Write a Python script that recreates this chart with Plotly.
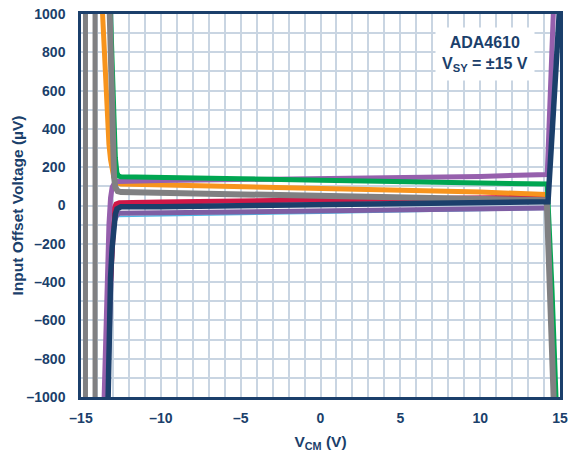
import plotly.graph_objects as go

# ---- data (V_CM in volts, input offset voltage in µV) ----
vcm_lightblue = [-12.7, -10, -5, 0, 5, 10, 14.2]
ios_lightblue = [-58, -55, -48, -40, -32, -25, -20]

vcm_purple_low = [-13.35, -13.2, -13.05, -12.9, -12.75, -12.6, -10, 0, 10, 14.2]
ios_purple_low = [-1000, -500, -200, -80, -48, -41, -38, -28, -18, -13]

vcm_red = [-13.15, -13.0, -12.9, -12.8, -12.6, -10, 0, 10, 14.2]
ios_red = [-400, -100, -10, 8, 14, 18, 30, 40, 45]

vcm_orange = [-13.65, -13.55, -13.45, -13.35, -13.25, -13.15, -13.05, -12.95, -12.85, -12.7, -12.5, -10, 0, 10, 14.15]
ios_orange = [1000, 800, 600, 440, 320, 240, 185, 150, 130, 118, 112, 108, 90, 70, 58]

vcm_purple_up = [-13.55, -13.45, -13.35, -13.25, -13.15, -13.05, -12.9, -12.7, -10, 0, 10, 14.2, 14.58]
ios_purple_up = [-1000, -600, -300, -100, 40, 95, 118, 125, 130, 140, 152, 162, 1000]

vcm_green = [-13.15, -13.0, -12.85, -12.75, -12.65, -12.5, -10, -5, 0, 5, 10, 14.2, 14.5, 14.75]
ios_green = [1000, 500, 250, 170, 153, 150, 148, 140, 132, 125, 118, 112, -440, -1000]

vcm_gray = [-13.2, -13.1, -13.0, -12.93, -12.85, -12.7, -12.5, -10, 0, 10, 14.17, 14.6]
ios_gray = [1000, 600, 300, 150, 95, 75, 70, 66, 50, 38, 28, -1000]

vcm_gray_a = [-14.72, -14.72]
ios_gray_a = [-1000, 1000]
vcm_gray_b = [-14.12, -14.12]
ios_gray_b = [-1000, 1000]

vcm_navy = [-13.3, -13.22, -13.15, -13.05, -12.95, -12.85, -12.75, -12.6, -12.5, -10, 0, 10, 14.25, 14.95]
ios_navy = [-1000, -600, -380, -220, -110, -45, -18, -9, -7, -6, 3, 12, 20, 1000]

x_tickvals = [-15, -10, -5, 0, 5, 10, 15]
x_ticktext = ["–15", "–10", "–5", "0", "5", "10", "15"]
y_tickvals = [-1000, -800, -600, -400, -200, 0, 200, 400, 600, 800, 1000]
y_ticktext = ["–1000", "–800", "–600", "–400", "–200", "0", "200", "400", "600", "800", "1000"]

NAVY = "#1b3f6b"
GRID = "#c9d5e2"
FONT = "Liberation Sans, Arial, sans-serif"

series = [
    (vcm_lightblue, ios_lightblue, "#4fb8e6", 1.5),
    (vcm_purple_low, ios_purple_low, "#7e5ea3", 5),
    (vcm_red, ios_red, "#cf1847", 5),
    (vcm_orange, ios_orange, "#f7941d", 5),
    (vcm_purple_up, ios_purple_up, "#9660ad", 5),
    (vcm_green, ios_green, "#00a651", 5),
    (vcm_gray, ios_gray, "#808082", 6),
    (vcm_gray_a, ios_gray_a, "#808082", 5),
    (vcm_gray_b, ios_gray_b, "#808082", 5),
    (vcm_navy, ios_navy, NAVY, 5.5),
]

fig = go.Figure()
for xs, ys, col, w in series:
    fig.add_trace(go.Scatter(x=xs, y=ys, mode="lines", line=dict(color=col, width=w),
                             showlegend=False, hoverinfo="skip"))

fig.update_layout(
    width=578, height=452,
    margin=dict(l=81, r=18, t=14, b=55),
    paper_bgcolor="white", plot_bgcolor="white",
    font=dict(family=FONT, color=NAVY, size=14, weight="bold"),
    xaxis=dict(
        range=[-15, 15], tickvals=x_tickvals, ticktext=x_ticktext, automargin=False,
        showgrid=True, gridcolor=GRID, gridwidth=1.5,
        minor=dict(dtick=1, tick0=0, showgrid=True, gridcolor=GRID, gridwidth=1.5),
        showline=True, linecolor=NAVY, linewidth=2.5, mirror=True,
        zeroline=False, ticks="", ticklabelstandoff=6, ticklabeloverflow="allow",
        tickfont=dict(family=FONT, size=14, color=NAVY, weight="bold"),
        title=dict(text="V<sub>CM</sub> (V)", standoff=14,
                   font=dict(family=FONT, size=15.5, color=NAVY, weight="bold")),
    ),
    yaxis=dict(
        range=[-1000, 1000], tickvals=y_tickvals, ticktext=y_ticktext, automargin=False,
        showgrid=True, gridcolor=GRID, gridwidth=1.5,
        minor=dict(dtick=100, tick0=0, showgrid=True, gridcolor=GRID, gridwidth=1.5),
        showline=True, linecolor=NAVY, linewidth=2.5, mirror=True,
        zeroline=False, ticks="", ticklabelstandoff=10, ticklabeloverflow="allow",
        tickfont=dict(family=FONT, size=14, color=NAVY, weight="bold"),
        title=dict(text="Input Offset Voltage (µV)", standoff=0,
                   font=dict(family=FONT, size=15.5, color=NAVY, weight="bold")),
    ),
    annotations=[dict(
        x=0.843, y=0.895, xref="paper", yref="paper", xanchor="center", yanchor="middle",
        text="ADA4610<br>V<sub>SY</sub> = ±15 V", showarrow=False, align="center",
        bgcolor="white", borderpad=6,
        font=dict(family=FONT, size=16, color=NAVY, weight="bold"),
    )],
)

fig.write_html("out.html", config={"displayModeBar": False},
               post_script="document.body.style.margin='0';")
